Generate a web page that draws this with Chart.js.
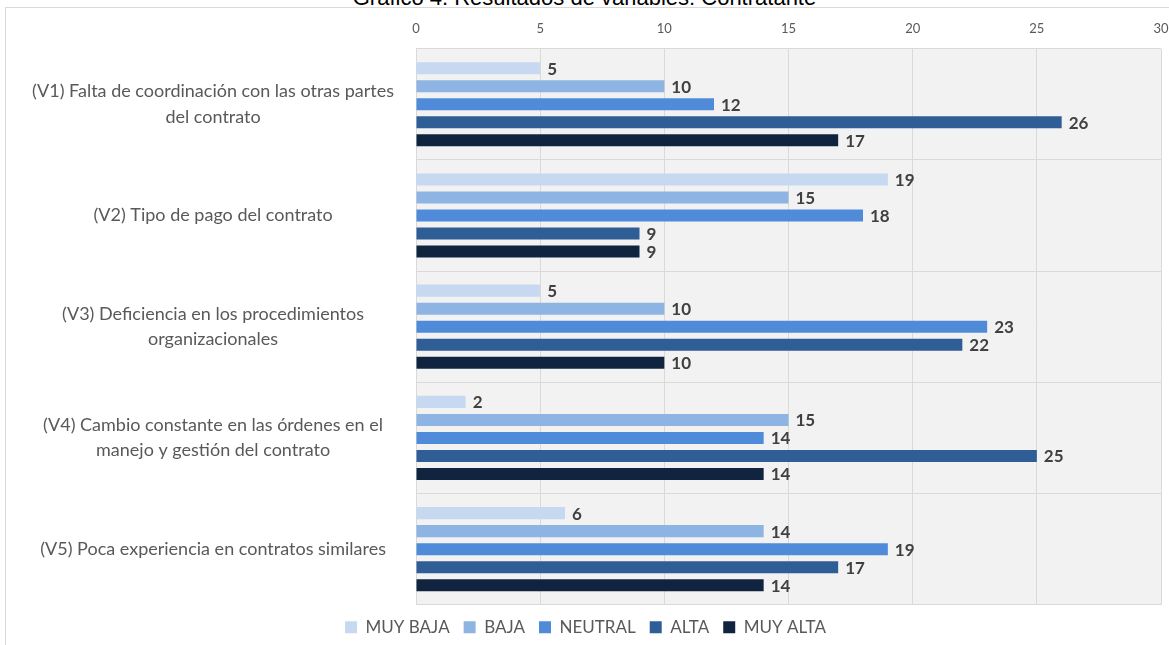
<!DOCTYPE html>
<html>
<head>
<meta charset="utf-8">
<script src="https://cdn.jsdelivr.net/npm/chart.js@4.4.1/dist/chart.umd.min.js"></script>
<style>
  html, body { margin: 0; padding: 0; background: #ffffff; overflow: hidden; }
  body { width: 1169px; height: 645px; position: relative; }
  #title { position: absolute; top: -13px; left: 0; width: 1169px; text-align: center;
           font-family: "Liberation Sans", Arial, sans-serif; font-size: 22px; line-height: 22px; color: #000; }
  #frame { position: absolute; left: 5px; top: 7px; width: 1200px; height: 700px; border: 1px solid #d9d9d9; box-sizing: border-box; }
  #wrap { position: absolute; left: 0; top: 0; width: 1200px; height: 652px; }
</style>
</head>
<body>
<div id="title">Gráfico 4. Resultados de variables: Contratante</div>
<div id="frame"></div>
<div id="wrap"><canvas id="c" width="1200" height="652"></canvas></div>
<script>
const categories = [
  ["(V1) Falta de coordinación con las otras partes", "del contrato"],
  "(V2) Tipo de pago del contrato",
  ["(V3) Deficiencia en los procedimientos", "organizacionales"],
  ["(V4) Cambio constante en las órdenes en el", "manejo y gestión del contrato"],
  "(V5) Poca experiencia en contratos similares"
];
const seriesNames = ["MUY BAJA", "BAJA", "NEUTRAL", "ALTA", "MUY ALTA"];
const muyBaja  = [5, 19, 5, 2, 6];
const baja     = [10, 15, 10, 15, 14];
const neutral  = [12, 18, 23, 14, 19];
const alta     = [26, 9, 22, 25, 17];
const muyAlta  = [17, 9, 10, 14, 14];
const xTicks   = [0, 5, 10, 15, 20, 25, 30];

const colors = ["#c6d9f1", "#8db4e2", "#4f8bd8", "#2f5d95", "#11243f"];
const values = [muyBaja, baja, neutral, alta, muyAlta];

const bgPlugin = {
  id: 'plotBg',
  beforeDraw(chart) {
    const a = chart.chartArea, ctx = chart.ctx;
    ctx.save();
    ctx.fillStyle = '#f2f2f2';
    ctx.fillRect(a.left, a.top, a.right - a.left, a.bottom - a.top);
    ctx.restore();
  }
};

const labelPlugin = {
  id: 'valueLabels',
  afterDatasetsDraw(chart) {
    const ctx = chart.ctx;
    ctx.save();
    ctx.font = 'bold 17px Lato, "Open Sans", sans-serif';
    ctx.fillStyle = '#404040';
    ctx.textAlign = 'left';
    ctx.textBaseline = 'middle';
    chart.data.datasets.forEach((ds, i) => {
      const meta = chart.getDatasetMeta(i);
      meta.data.forEach((el, j) => {
        ctx.fillText(String(ds.data[j]), el.x + 7, el.y + 1);
      });
    });
    ctx.restore();
  }
};

new Chart(document.getElementById('c'), {
  type: 'bar',
  data: {
    labels: categories,
    datasets: seriesNames.map((n, i) => ({
      label: n,
      data: values[i],
      backgroundColor: colors[i],
      borderWidth: 0,
      categoryPercentage: 0.81,
      barPercentage: 0.67
    }))
  },
  options: {
    indexAxis: 'y',
    responsive: false,
    animation: false,
    layout: { padding: { left: 10, right: 39, top: 9, bottom: 0 } },
    scales: {
      x: {
        position: 'top',
        min: 0, max: 30,
        afterBuildTicks(scale) { scale.ticks = xTicks.map(v => ({ value: v })); },
        ticks: { color: '#595959', font: { family: 'Lato, "Open Sans", sans-serif', size: 13 }, padding: 12 },
        grid: { color: '#d9d9d9', drawTicks: false },
        border: { display: false }
      },
      y: {
        afterFit(scale) { scale.width = 406; },
        ticks: { color: '#595959', font: { family: 'Lato, "Open Sans", sans-serif', size: 18, lineHeight: 1.4 }, padding: 22, crossAlign: 'center' },
        grid: { color: '#d9d9d9', drawTicks: false, offset: true },
        border: { display: false }
      }
    },
    plugins: {
      legend: {
        position: 'bottom',
        labels: { color: '#595959', font: { family: 'Lato, "Open Sans", sans-serif', size: 17 }, boxWidth: 12, boxHeight: 12, padding: 14 }
      },
      tooltip: { enabled: false }
    }
  },
  plugins: [bgPlugin, labelPlugin]
});
</script>
</body>
</html>
